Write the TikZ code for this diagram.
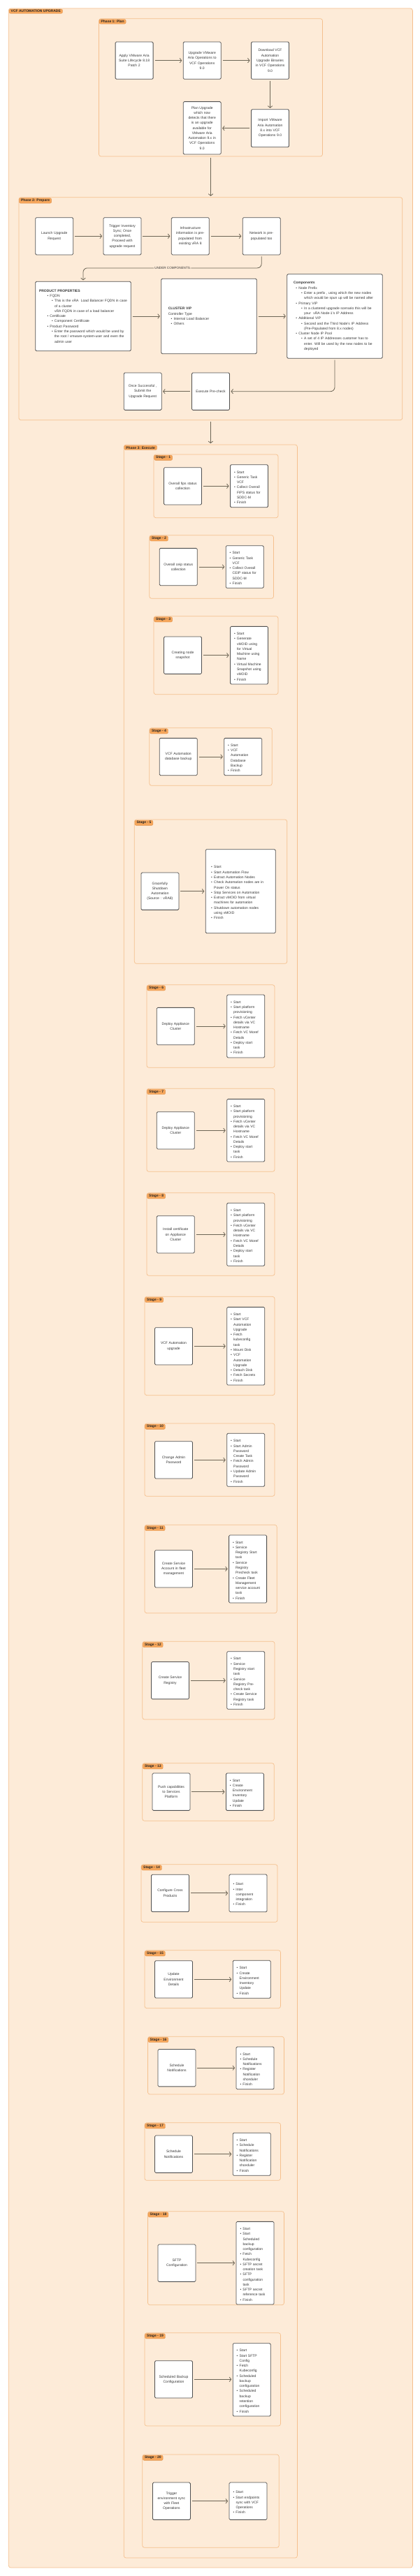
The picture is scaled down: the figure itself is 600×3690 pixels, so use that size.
\documentclass[tikz,border=0pt]{standalone}
\usepackage{fontspec}
\setmainfont{Liberation Sans}
\usetikzlibrary{arrows.meta,positioning,fit,calc}
\definecolor{pagebg}{HTML}{FDEBD8}
\definecolor{grpline}{HTML}{F5C08E}
\definecolor{tagfill}{HTML}{F6A65B}
\definecolor{boxline}{HTML}{505050}
\definecolor{arrowcol}{HTML}{6C6555}
\definecolor{txt}{HTML}{363636}
% bullet item with optional left indent
\newcommand{\lpt}[2][0pt]{\par\noindent\hangindent=\dimexpr#1+4pt\relax\hangafter=1\hspace*{#1}\makebox[4pt][l]{\textbullet}#2}
\tikzset{
    grp/.style={
        draw=grpline,
        fill=pagebg,
        line width=0.7pt,
        rounded corners=3pt,
        inner sep=0pt
    },
    grptag/.style={
        draw=tagfill!90!black,
        fill=tagfill,
        line width=0.3pt,
        rounded corners=2pt,
        inner xsep=2.6pt,
        inner ysep=1.4pt,
        anchor=north west,
        text=black!85,
        font=\bfseries\fontsize{5}{6}\selectfont
    },
    stepbox/.style={
        draw=boxline,
        fill=white,
        line width=0.8pt,
        rounded corners=1.5pt,
        align=center,
        text width=46pt,
        minimum width=54pt,
        minimum height=53.3pt,
        inner sep=2pt,
        text=txt,
        font=\fontsize{5}{7.27}\selectfont
    },
    listbox/.style={
        stepbox,
        align=left,
        text width=43pt
    },
    arrow/.style={
        -{Straight Barb[length=2.6pt,width=6.5pt]},
        line width=0.8pt,
        draw=arrowcol,
        shorten <=2pt,
        shorten >=1.5pt
    },
    lbl/.style={fill=pagebg, text=txt, inner sep=1.5pt, font=\fontsize{4.6}{5}\selectfont}
}

\begin{document}
\begin{tikzpicture}[x=1pt,y=-1pt]
\useasboundingbox (0,0) rectangle (600,3690);

\node[grp, fit={(12.3,12) (590.4,3678)}] (upgrade) {};
\node[grptag] (upgradetag) at ([xshift=1pt,yshift=-1.2pt]upgrade.north west) {VCF AUTOMATION UPGRADE};

% Phase 1
\node[grp, fit={(141.5,26.7) (461.5,224)}] (ph1) {};
\node[grptag] (ph1tag) at ([xshift=0.7pt,yshift=-1.2pt]ph1.north west) {Phase 1: Plan};

\node[stepbox] (apply) at (192.1,86.7) {Apply VMware Aria\\Suite Lifecycle 8.18\\Patch 2};
\node[stepbox] (upops) at (289.2,86.7) {Upgrade VMware\\Aria Operations to\\VCF Operations\\9.0};
\node[stepbox] (dlbin) at (386.5,86.7) {Download VCF\\Automation\\Upgrade Binaries\\in VCF Operations\\9.0};
\node[stepbox, minimum height=54pt] (import) at (386.5,183.7) {Import VMware\\Aria Automation\\8.x into VCF\\Operations 9.0};
\node[stepbox, minimum height=75.3pt] (plan) at (289.2,183.3) {Plan Upgrade\\which now\\detects that there\\is an upgrade\\available for\\VMware Aria\\Automation 9.x in\\VCF Operations\\9.0};

\draw[arrow] (apply) -- (upops);
\draw[arrow] (upops) -- (dlbin);
\draw[arrow] (dlbin) -- (import);
\draw[arrow] (import.west) -- (import.west -| plan.east);

% Phase 2
\node[grp, fit={(26.9,282.7) (575.8,601.7)}] (ph2) {};
\node[grptag] (ph2tag) at ([xshift=0.7pt,yshift=-1.2pt]ph2.north west) {Phase 2: Prepare};

\node[stepbox] (launch) at (77.7,338.3) {Launch Upgrade\\Request};
\node[stepbox] (sync) at (175,338.3) {Trigger Inventory\\Sync; Once\\completed,\\Proceed with\\upgrade request};
\node[stepbox] (infra) at (272.3,338.3) {Infrastructure\\information is pre-\\populated from\\existing vRA 8};
\node[stepbox] (network) at (374.2,338.3) {Network is pre-\\populated too};

\node[stepbox, align=left, text width=126pt, minimum width=136.5pt, minimum height=99.4pt] (props) at (119,453) {%
\noindent{\bfseries PRODUCT PROPERTIES}
\lpt[11.5pt]{FQDN}
\lpt[18pt]{This is the vRA\ \ Load Balancer FQDN in case\newline of a cluster\newline vRA FQDN in case of a load balancer}
\lpt[11.5pt]{Certificate}
\lpt[18pt]{Component Certificate}
\lpt[11.5pt]{Product Password}
\lpt[18pt]{Enter the password which would be used by\newline the root / vmware-system-user and even the\newline admin user}\par};
\node[stepbox, align=left, text width=116.5pt, minimum width=136.5pt, minimum height=107.4pt] (vip) at (299,453) {%
\noindent{\bfseries CLUSTER VIP}\par
\noindent Controller Type
\lpt[3.8pt]{Internal Load Balancer}
\lpt[3.8pt]{Others}\par};
\node[stepbox, align=left, text width=118pt, minimum width=136.5pt, minimum height=120.6pt] (comps) at (479,453) {%
\noindent{\bfseries Components}
\lpt[3.4pt]{Node Prefix}
\lpt[11.2pt]{Enter a prefix , using which the new nodes\newline which would be spun up will be named after}
\lpt[3.4pt]{Primary VIP}
\lpt[11.2pt]{In a clustered upgrade scenario this will be\newline your\ \ vRA Node-1's IP Address}
\lpt[3.4pt]{Additional VIP}
\lpt[11.2pt]{Second and the Third Node's IP Address\newline (Pre-Populated from 8.x nodes)}
\lpt[3.4pt]{Cluster Node IP Pool}
\lpt[11.2pt]{A set of 4 IP Addresses customer has to\newline enter. Will be used by the new nodes to be\newline deployed}\par};

\node[stepbox] (precheck) at (301.5,560.7) {Execute Pre-check};
\node[stepbox] (submit) at (204.2,560.7) {Once Successful ,\\Submit the\\Upgrade Request};

\draw[arrow] (launch) -- (sync);
\draw[arrow] (sync) -- (infra);
\draw[arrow] (infra) -- (network);
\draw[arrow, rounded corners=6pt] (network.south) |- node[lbl, pos=0.75] (undercomp) {UNDER COMPONENTS} ($(props.north)+(0,-19)$) -- (props.north);
\draw[arrow] (props) -- (vip);
\draw[arrow] (vip) -- (comps);
\draw[arrow, rounded corners=6pt] (comps.south) |- (precheck.east);
\draw[arrow] (precheck) -- (submit);

% Phase 3
\node[grp, fit={(177.3,637) (425.4,3664)}] (ph3) {};
\node[grptag] (ph3tag) at ([xshift=0.7pt,yshift=-1.2pt]ph3.north west) {Phase 3: Execute};

\draw[arrow] (ph1.south) -- (ph1.south |- ph2.north);
\draw[arrow] (ph2.south) -- (ph2.south |- ph3.north);

% Stage 1
\node[grp, fit={(220,651) (398,741.7)}] (st1) {};
\node[grptag] (st1tag) at ([xshift=0.8pt,yshift=-1.2pt]st1.north west) {Stage - 1};
\node[stepbox] (st1task) at (261.5,696.3) {Overall fips status\\collection};
\node[listbox, minimum height=61pt] (st1list) at (356.5,696.2) {\lpt{Start}\lpt{Generic Task\newline VCF}\lpt{Collect Overall\newline FIPS status for\newline SDDC-M}\lpt{Finish}};
\draw[arrow] (st1task.east) -- (st1task.east -| st1list.west);

% Stage 2
\node[grp, fit={(213.8,766.7) (391.5,857.3)}] (st2) {};
\node[grptag] (st2tag) at ([xshift=0.8pt,yshift=-1.2pt]st2.north west) {Stage - 2};
\node[stepbox] (st2task) at (255.2,812) {Overall ceip status\\collection};
\node[listbox, minimum height=60.6pt] (st2list) at (350.2,812) {\lpt{Start}\lpt{Generic Task\newline VCF}\lpt{Collect Overall\newline CEIP status for\newline SDDC-M}\lpt{Finish}};
\draw[arrow] (st2task.east) -- (st2task.east -| st2list.west);

% Stage 3
\node[grp, fit={(220,882.7) (398,994.7)}] (st3) {};
\node[grptag] (st3tag) at ([xshift=0.8pt,yshift=-1.2pt]st3.north west) {Stage - 3};
\node[stepbox] (st3task) at (261.5,938.7) {Creating node\\snapshot};
\node[listbox, minimum height=82.7pt] (st3list) at (356.5,938.7) {\lpt{Start}\lpt{Generate\newline vMOID using\newline for Virtual\newline Machine using\newline Name}\lpt{Virtual Machine\newline Snapshot using\newline vMOID}\lpt{Finish}};
\draw[arrow] (st3task.east) -- (st3task.east -| st3list.west);

% Stage 4
\node[grp, fit={(213.8,1042.7) (389.2,1125.3)}] (st4) {};
\node[grptag] (st4tag) at ([xshift=0.8pt,yshift=-1.2pt]st4.north west) {Stage - 4};
\node[stepbox] (st4task) at (255.2,1084) {VCF Automation\\database backup};
\node[listbox, minimum height=53.3pt] (st4list) at (347.7,1084) {\lpt{Start}\lpt{VCF\newline Automation\newline Database\newline Backup}\lpt{Finish}};
\draw[arrow] (st4task.east) -- (st4task.east -| st4list.west);

% Stage 5
\node[grp, fit={(192.3,1174) (410.8,1380.3)}] (st5) {};
\node[grptag] (st5tag) at ([xshift=0.8pt,yshift=-1.2pt]st5.north west) {Stage - 5};
\node[stepbox] (st5task) at (228.9,1276.7) {Gracefully\\Shutdown\\Automation\\(Source : vRA8)};
\node[listbox, text width=84pt, minimum width=100pt, minimum height=120pt] (st5list) at (344.2,1276.7) {\lpt{Start}\lpt{Start Automation Flow}\lpt{Extract Automation Nodes}\lpt{Check Automation nodes are in\newline Power On status}\lpt{Stop Services on Automation}\lpt{Extract vMOID from virtual\newline machines for automation}\lpt{Shutdown automation nodes\newline using vMOID}\lpt{Finish}};
\draw[arrow] (st5task.east) -- (st5task.east -| st5list.west);

% Stage 6
\node[grp, fit={(210,1410.7) (393,1529.3)}] (st6) {};
\node[grptag] (st6tag) at ([xshift=0.8pt,yshift=-1.2pt]st6.north west) {Stage - 6};
\node[stepbox] (st6task) at (251.3,1470) {Deploy Appliance\\Cluster};
\node[listbox, minimum height=90pt] (st6list) at (351.7,1470) {\lpt{Start}\lpt{Start platform\newline provisioning}\lpt{Fetch vCenter\newline details via VC\newline Hostname}\lpt{Fetch VC Moref\newline Details}\lpt{Deploy start\newline task}\lpt{Finish}};
\draw[arrow] (st6task.east) -- (st6task.east -| st6list.west);

% Stage 7
\node[grp, fit={(210,1559.3) (393,1678.3)}] (st7) {};
\node[grptag] (st7tag) at ([xshift=0.8pt,yshift=-1.2pt]st7.north west) {Stage - 7};
\node[stepbox] (st7task) at (251.3,1619.3) {Deploy Appliance\\Cluster};
\node[listbox, minimum height=89.7pt] (st7list) at (351.7,1619.2) {\lpt{Start}\lpt{Start platform\newline provisioning}\lpt{Fetch vCenter\newline details via VC\newline Hostname}\lpt{Fetch VC Moref\newline Details}\lpt{Deploy start\newline task}\lpt{Finish}};
\draw[arrow] (st7task.east) -- (st7task.east -| st7list.west);

% Stage 8
\node[grp, fit={(210,1708.7) (393,1827.3)}] (st8) {};
\node[grptag] (st8tag) at ([xshift=0.8pt,yshift=-1.2pt]st8.north west) {Stage - 8};
\node[stepbox] (st8task) at (251.3,1768.3) {Install certificate\\on Appliance\\Cluster};
\node[listbox, minimum height=90pt] (st8list) at (351.7,1768.3) {\lpt{Start}\lpt{Start platform\newline provisioning}\lpt{Fetch vCenter\newline details via VC\newline Hostname}\lpt{Fetch VC Moref\newline Details}\lpt{Deploy start\newline task}\lpt{Finish}};
\draw[arrow] (st8task.east) -- (st8task.east -| st8list.west);

% Stage 9
\node[grp, fit={(207,1857.3) (393,1998.7)}] (st9) {};
\node[grptag] (st9tag) at ([xshift=0.8pt,yshift=-1.2pt]st9.north west) {Stage - 9};
\node[stepbox] (st9task) at (248.5,1928.3) {VCF Automation\\upgrade};
\node[listbox, minimum height=111.7pt] (st9list) at (351.7,1928.2) {\lpt{Start}\lpt{Start VCF\newline Automation\newline Upgrade}\lpt{Fetch\newline kubeconfig\newline task}\lpt{Mount Disk}\lpt{VCF\newline Automation\newline Upgrade}\lpt{Detach Disk}\lpt{Fetch Secrets}\lpt{Finish}};
\draw[arrow] (st9task.east) -- (st9task.east -| st9list.west);

% Stage 10
\node[grp, fit={(207,2039) (393,2143.3)}] (st10) {};
\node[grptag] (st10tag) at ([xshift=0.8pt,yshift=-1.2pt]st10.north west) {Stage - 10};
\node[stepbox] (st10task) at (248.5,2091.3) {Change Admin\\Password};
\node[listbox, minimum height=76pt] (st10list) at (351.7,2091.3) {\lpt{Start}\lpt{Start Admin\newline Password\newline Create Task}\lpt{Fetch Admin\newline Password}\lpt{Update Admin\newline Password}\lpt{Finish}};
\draw[arrow] (st10task.east) -- (st10task.east -| st10list.west);

% Stage 11
\node[grp, fit={(207,2184.3) (396.2,2310.7)}] (st11) {};
\node[grptag] (st11tag) at ([xshift=0.8pt,yshift=-1.2pt]st11.north west) {Stage - 11};
\node[stepbox] (st11task) at (248.5,2247.3) {Create Service\\Account in fleet\\management};
\node[listbox, minimum height=97pt] (st11list) at (354.6,2247.5) {\lpt{Start}\lpt{Service\newline Registry Start\newline task}\lpt{Service\newline Registry\newline Precheck task}\lpt{Create Fleet\newline Management\newline service account\newline task}\lpt{Finish}};
\draw[arrow] (st11task.east) -- (st11task.east -| st11list.west);

% Stage 12
\node[grp, fit={(203.8,2351.3) (393,2463)}] (st12) {};
\node[grptag] (st12tag) at ([xshift=0.8pt,yshift=-1.2pt]st12.north west) {Stage - 12};
\node[stepbox] (st12task) at (243.5,2407.2) {Create Service\\Registry};
\node[listbox, minimum height=82.6pt] (st12list) at (351.7,2407) {\lpt{Start}\lpt{Service\newline Registry start\newline task}\lpt{Service\newline Registry Pre-\newline check task}\lpt{Create Service\newline Registry task}\lpt{Finish}};
\draw[arrow] (st12task.east) -- (st12task.east -| st12list.west);

% Stage 13
\node[grp, fit={(203.8,2525.7) (392.3,2608.3)}] (st13) {};
\node[grptag] (st13tag) at ([xshift=0.8pt,yshift=-1.2pt]st13.north west) {Stage - 13};
\node[stepbox] (st13task) at (245,2566.7) {Push capabilities\\to Services\\Platform};
\node[listbox, minimum height=53.3pt] (st13list) at (350.4,2566.7) {\lpt{Start}\lpt{Create\newline Environment\newline Inventory\newline Update}\lpt{Finish}};
\draw[arrow] (st13task.east) -- (st13task.east -| st13list.west);

% Stage 14
\node[grp, fit={(202,2670.7) (397,2753.3)}] (st14) {};
\node[grptag] (st14tag) at ([xshift=0.8pt,yshift=-1.2pt]st14.north west) {Stage - 14};
\node[stepbox] (st14task) at (243.5,2711.8) {Configure Cross\\Products};
\node[listbox, minimum height=53.7pt] (st14list) at (355,2711.8) {\lpt{Start}\lpt{Inter\newline component\newline integration}\lpt{Finish}};
\draw[arrow] (st14task.east) -- (st14task.east -| st14list.west);

% Stage 15
\node[grp, fit={(207,2793.7) (401.5,2876.7)}] (st15) {};
\node[grptag] (st15tag) at ([xshift=0.8pt,yshift=-1.2pt]st15.north west) {Stage - 15};
\node[stepbox] (st15task) at (248.5,2835.3) {Update\\Environment\\Details};
\node[listbox, minimum height=54pt] (st15list) at (360.2,2835.3) {\lpt{Start}\lpt{Create\newline Environment\newline Inventory\newline Update}\lpt{Finish}};
\draw[arrow] (st15task.east) -- (st15task.east -| st15list.west);

% Stage 16
\node[grp, fit={(211.5,2917.3) (406.5,3000)}] (st16) {};
\node[grptag] (st16tag) at ([xshift=0.8pt,yshift=-1.2pt]st16.north west) {Stage - 16};
\node[stepbox] (st16task) at (253,2962.2) {Schedule\\Notifications};
\node[listbox, minimum height=60.7pt] (st16list) at (365,2962.3) {\lpt{Start}\lpt{Schedule\newline Notifications}\lpt{Register\newline Notification\newline shceduler}\lpt{Finish}};
\draw[arrow] (st16task.east) -- (st16task.east -| st16list.west);

% Stage 17
\node[grp, fit={(207,3040.7) (401.5,3123.3)}] (st17) {};
\node[grptag] (st17tag) at ([xshift=0.8pt,yshift=-1.2pt]st17.north west) {Stage - 17};
\node[stepbox] (st17task) at (248.5,3085.7) {Schedule\\Notifications};
\node[listbox, minimum height=61pt] (st17list) at (360.2,3085.8) {\lpt{Start}\lpt{Schedule\newline Notifications}\lpt{Register\newline Notification\newline shceduler}\lpt{Finish}};
\draw[arrow] (st17task.east) -- (st17task.east -| st17list.west);

% Stage 18
\node[grp, fit={(211.5,3167.7) (406.5,3301.7)}] (st18) {};
\node[grptag] (st18tag) at ([xshift=0.8pt,yshift=-1.2pt]st18.north west) {Stage - 18};
\node[stepbox] (st18task) at (253,3241.7) {SFTP\\Configuration};
\node[listbox, minimum height=118.7pt] (st18list) at (365,3241.7) {\lpt{Start}\lpt{Start\newline Scheduled\newline backup\newline configuration}\lpt{Fetch\newline Kubeconfig}\lpt{SFTP secret\newline creation task}\lpt{SFTP\newline configuration\newline task}\lpt{SFTP secret\newline reference task}\lpt{Finish}};
\draw[arrow] (st18task.east) -- (st18task.east -| st18list.west);

% Stage 19
\node[grp, fit={(207,3341.7) (401.5,3475)}] (st19) {};
\node[grptag] (st19tag) at ([xshift=0.8pt,yshift=-1.2pt]st19.north west) {Stage - 19};
\node[stepbox] (st19task) at (248.5,3408.3) {Scheduled Backup\\Configuration};
\node[listbox, minimum height=104.3pt] (st19list) at (360.2,3408.8) {\lpt{Start}\lpt{Start SFTP\newline Config}\lpt{Fetch\newline Kubeconfig}\lpt{Scheduled\newline backup\newline configuration}\lpt{Scheduled\newline backup\newline retention\newline configuration}\lpt{Finish}};
\draw[arrow] (st19task.east) -- (st19task.east -| st19list.west);

% Stage 20
\node[grp, fit={(203.8,3516) (399.2,3649.3)}] (st20) {};
\node[grptag] (st20tag) at ([xshift=0.8pt,yshift=-1.2pt]st20.north west) {Stage - 20};
\node[stepbox] (st20task) at (245.4,3582.7) {Trigger\\environment sync\\with Fleet\\Operations};
\node[listbox, minimum height=53.3pt] (st20list) at (355,3582.7) {\lpt{Start}\lpt{Start endpoints\newline sync with VCF\newline Operations}\lpt{Finish}};
\draw[arrow] (st20task.east) -- (st20task.east -| st20list.west);

\end{tikzpicture}
\end{document}
